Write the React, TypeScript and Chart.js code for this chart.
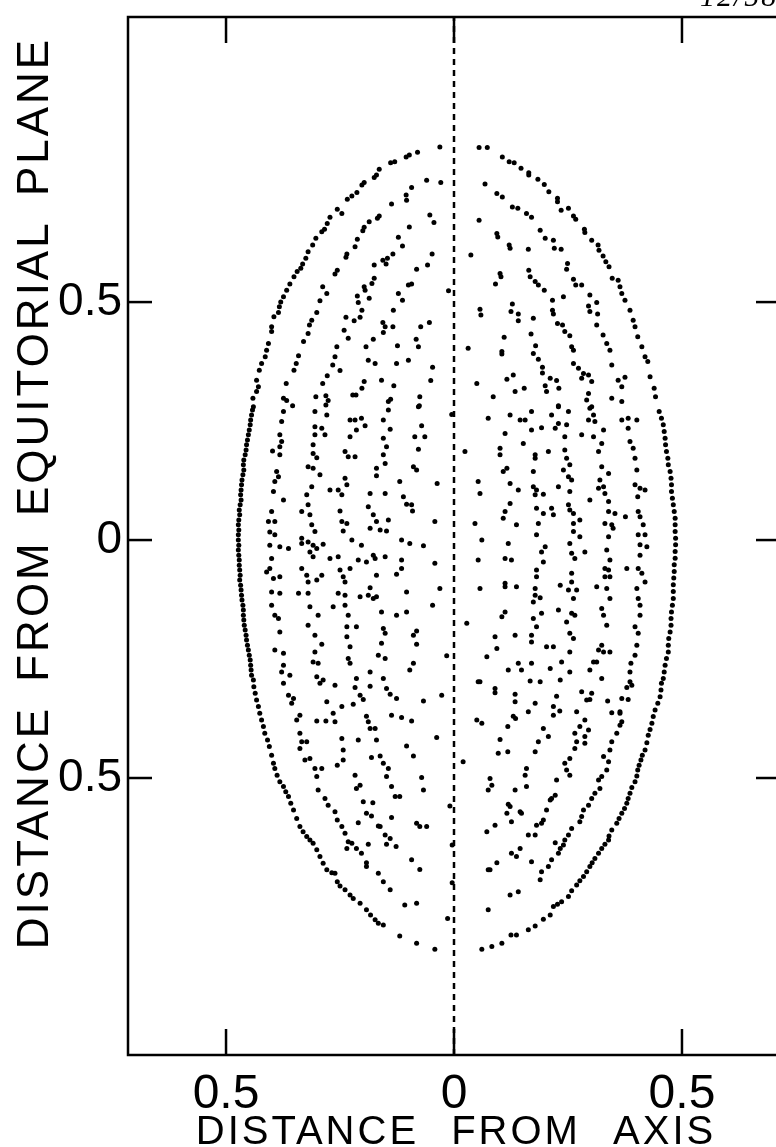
import { useEffect, useRef } from "react";
import { Chart, registerables } from "chart.js";

Chart.register(...registerables);

// Axis ranges (units of the figure: distance from axis / from equatorial plane)
const X_MIN = -0.715;
const X_MAX = 0.715;
const Y_MIN = -1.082;
const Y_MAX = 1.099;

const xTickValues = [-0.5, 0, 0.5];
const yTickValues = [-0.5, 0, 0.5];

const xTitle = "DISTANCE FROM AXIS";
const yTitle = "DISTANCE FROM EQUITORIAL PLANE";
const cornerNote = "12/58";

type Pt = [number, number];

// Crossing points, grouped by region of the section
const upperLeft: Pt[] = [
  [-0.031, 0.826], [-0.080, 0.815], [-0.098, 0.809], [-0.105, 0.805], [-0.130, 0.795], [-0.139, 0.793],
  [-0.164, 0.779], [-0.170, 0.767], [-0.175, 0.762], [-0.197, 0.751], [-0.202, 0.746], [-0.213, 0.730],
  [-0.224, 0.723], [-0.234, 0.716], [-0.256, 0.695], [-0.246, 0.686], [-0.272, 0.678], [-0.278, 0.665],
  [-0.284, 0.653], [-0.290, 0.648], [-0.303, 0.634], [-0.310, 0.620], [-0.320, 0.606], [-0.325, 0.592],
  [-0.332, 0.580], [-0.336, 0.571], [-0.344, 0.564], [-0.351, 0.553], [-0.360, 0.538], [-0.367, 0.525],
  [-0.374, 0.511], [-0.380, 0.500], [-0.383, 0.490], [-0.385, 0.478], [-0.395, 0.469], [-0.400, 0.448],
  [-0.400, 0.438], [-0.407, 0.413], [-0.411, 0.399], [-0.414, 0.385], [-0.422, 0.371], [-0.427, 0.357],
  [-0.433, 0.336], [-0.429, 0.322], [-0.433, 0.312], [-0.441, 0.298], [-0.440, 0.280],
  [-0.060, 0.756], [-0.029, 0.751], [-0.093, 0.741], [-0.105, 0.725], [-0.104, 0.714], [-0.137, 0.706],
  [-0.053, 0.683], [-0.044, 0.667], [-0.164, 0.681], [-0.168, 0.676], [-0.186, 0.669], [-0.098, 0.658],
  [-0.197, 0.657], [-0.200, 0.650], [-0.122, 0.636], [-0.113, 0.618], [-0.212, 0.632], [-0.217, 0.616],
  [-0.048, 0.601], [-0.058, 0.578], [-0.082, 0.569], [-0.134, 0.601], [-0.146, 0.592], [-0.156, 0.588],
  [-0.149, 0.580], [-0.175, 0.578], [-0.235, 0.601], [-0.237, 0.594], [-0.256, 0.567], [-0.261, 0.559],
  [-0.175, 0.550], [-0.180, 0.539], [-0.197, 0.532], [-0.100, 0.536], [-0.093, 0.538], [-0.288, 0.532],
  [-0.279, 0.518], [-0.294, 0.503], [-0.195, 0.525], [-0.186, 0.508], [-0.212, 0.513], [-0.210, 0.499],
  [-0.122, 0.518], [-0.113, 0.504], [-0.133, 0.483], [-0.202, 0.483], [-0.219, 0.461], [-0.206, 0.468],
  [-0.237, 0.468], [-0.241, 0.441], [-0.156, 0.457], [-0.151, 0.448], [-0.155, 0.436], [-0.134, 0.448],
  [-0.073, 0.448], [-0.054, 0.457], [-0.301, 0.478], [-0.312, 0.462], [-0.317, 0.452], [-0.320, 0.434],
  [-0.330, 0.417], [-0.232, 0.424], [-0.177, 0.422], [-0.193, 0.406], [-0.257, 0.406], [-0.124, 0.408],
  [-0.078, 0.406], [-0.083, 0.422], [-0.341, 0.387], [-0.346, 0.371], [-0.351, 0.357], [-0.261, 0.385],
  [-0.266, 0.368], [-0.250, 0.356], [-0.188, 0.378], [-0.173, 0.371], [-0.100, 0.378], [-0.126, 0.371],
  [-0.047, 0.363], [-0.278, 0.345], [-0.288, 0.329], [-0.368, 0.329], [-0.159, 0.336], [-0.197, 0.333],
  [-0.202, 0.319], [-0.132, 0.324], [-0.051, 0.335], [-0.303, 0.301], [-0.281, 0.303], [-0.276, 0.293],
  [-0.281, 0.284], [-0.222, 0.305], [-0.215, 0.305], [-0.139, 0.296], [-0.144, 0.291], [-0.075, 0.301],
  [-0.076, 0.282], [-0.374, 0.298], [-0.367, 0.293], [-0.354, 0.282], [-0.012, 0.524],
];

const upperRight: Pt[] = [
  [0.055, 0.825], [0.073, 0.825], [0.106, 0.805], [0.121, 0.795], [0.132, 0.793], [0.147, 0.781],
  [0.164, 0.772], [0.164, 0.767], [0.068, 0.748], [0.184, 0.758], [0.198, 0.747], [0.094, 0.728],
  [0.106, 0.721], [0.208, 0.732], [0.227, 0.718], [0.227, 0.711], [0.128, 0.700], [0.140, 0.697],
  [0.235, 0.693], [0.251, 0.697], [0.159, 0.686], [0.170, 0.678], [0.262, 0.681], [0.267, 0.674],
  [0.055, 0.672], [0.286, 0.653], [0.287, 0.646], [0.189, 0.651], [0.094, 0.644], [0.096, 0.637],
  [0.200, 0.634], [0.218, 0.630], [0.302, 0.630], [0.121, 0.620], [0.123, 0.613], [0.163, 0.611],
  [0.220, 0.613], [0.235, 0.611], [0.316, 0.620], [0.318, 0.609], [0.037, 0.599], [0.327, 0.597],
  [0.333, 0.585], [0.340, 0.574], [0.249, 0.581], [0.247, 0.569], [0.164, 0.567], [0.167, 0.553],
  [0.178, 0.543], [0.185, 0.536], [0.198, 0.525], [0.101, 0.560], [0.103, 0.553], [0.091, 0.538],
  [0.347, 0.550], [0.360, 0.546], [0.364, 0.532], [0.368, 0.518], [0.262, 0.548], [0.267, 0.536],
  [0.280, 0.536], [0.240, 0.511], [0.298, 0.515], [0.313, 0.499], [0.216, 0.504], [0.216, 0.483],
  [0.218, 0.475], [0.375, 0.504], [0.128, 0.496], [0.057, 0.485], [0.059, 0.473], [0.295, 0.492],
  [0.298, 0.480], [0.315, 0.475], [0.386, 0.483], [0.125, 0.480], [0.141, 0.475], [0.141, 0.461],
  [0.174, 0.466], [0.227, 0.455], [0.238, 0.452], [0.313, 0.452], [0.393, 0.462], [0.397, 0.448],
  [0.169, 0.433], [0.110, 0.426], [0.243, 0.438], [0.254, 0.429], [0.327, 0.431], [0.403, 0.427],
  [0.412, 0.406], [0.335, 0.413], [0.179, 0.408], [0.174, 0.392], [0.031, 0.403], [0.105, 0.396],
  [0.105, 0.391], [0.258, 0.406], [0.262, 0.399], [0.342, 0.399], [0.419, 0.385], [0.425, 0.375],
  [0.185, 0.380], [0.262, 0.371], [0.273, 0.361], [0.284, 0.350], [0.280, 0.340], [0.295, 0.347],
  [0.302, 0.333], [0.346, 0.368], [0.194, 0.363], [0.194, 0.351], [0.430, 0.343], [0.116, 0.338],
  [0.130, 0.347], [0.211, 0.340], [0.225, 0.335], [0.360, 0.336], [0.375, 0.342], [0.368, 0.322],
  [0.050, 0.329], [0.154, 0.319], [0.134, 0.312], [0.200, 0.324], [0.203, 0.312], [0.230, 0.319],
  [0.295, 0.308], [0.439, 0.319], [0.442, 0.301], [0.086, 0.301], [0.346, 0.298], [0.368, 0.291],
  [0.291, 0.294], [0.302, 0.280], [0.229, 0.282],
];

const middleLeft: Pt[] = [
  [-0.442, 0.273], [-0.444, 0.263], [-0.446, 0.252], [-0.447, 0.242], [-0.449, 0.231], [-0.451, 0.221],
  [-0.453, 0.210], [-0.455, 0.200], [-0.456, 0.189], [-0.458, 0.179], [-0.461, 0.168], [-0.462, 0.158],
  [-0.461, 0.147], [-0.463, 0.137], [-0.465, 0.126], [-0.466, 0.116], [-0.467, 0.105], [-0.468, 0.095],
  [-0.467, 0.084], [-0.469, 0.074], [-0.471, 0.063], [-0.470, 0.053], [-0.472, 0.042], [-0.473, 0.032],
  [-0.472, 0.021], [-0.473, 0.011], [-0.473, 0.000], [-0.472, -0.011], [-0.473, -0.021], [-0.472, -0.032],
  [-0.471, -0.042], [-0.471, -0.053], [-0.470, -0.063], [-0.469, -0.074], [-0.470, -0.084], [-0.468, -0.095],
  [-0.467, -0.105], [-0.466, -0.116], [-0.465, -0.126], [-0.463, -0.137], [-0.462, -0.147], [-0.462, -0.158],
  [-0.461, -0.168], [-0.460, -0.179], [-0.458, -0.189], [-0.456, -0.200], [-0.455, -0.210], [-0.453, -0.221],
  [-0.451, -0.231], [-0.449, -0.242], [-0.447, -0.252], [-0.446, -0.263], [-0.445, -0.273], [-0.444, -0.284],
  [-0.374, 0.270], [-0.378, 0.249], [-0.382, 0.221], [-0.378, 0.207], [-0.382, 0.196], [-0.398, 0.187],
  [-0.382, 0.179], [-0.389, 0.144], [-0.385, 0.133], [-0.393, 0.123], [-0.396, 0.102], [-0.374, 0.084],
  [-0.400, 0.060], [-0.407, 0.039], [-0.393, 0.039], [-0.404, 0.017], [-0.393, 0.011], [-0.404, -0.011],
  [-0.382, -0.014], [-0.363, -0.018], [-0.400, -0.039], [-0.404, -0.060], [-0.411, -0.067], [-0.396, -0.081],
  [-0.382, -0.077], [-0.400, -0.109], [-0.382, -0.112], [-0.400, -0.137], [-0.393, -0.158], [-0.385, -0.165],
  [-0.382, -0.193], [-0.393, -0.231], [-0.374, -0.238], [-0.374, -0.263], [-0.378, -0.277], [-0.360, -0.284],
  [-0.305, 0.270], [-0.279, 0.263], [-0.305, 0.238], [-0.290, 0.235], [-0.305, 0.221], [-0.283, 0.221],
  [-0.309, 0.200], [-0.309, 0.182], [-0.301, 0.173], [-0.320, 0.154], [-0.309, 0.151], [-0.294, 0.137],
  [-0.312, 0.112], [-0.323, 0.095], [-0.320, 0.074], [-0.316, 0.053], [-0.334, 0.060], [-0.312, 0.032],
  [-0.305, 0.018], [-0.334, 0.004], [-0.320, -0.004], [-0.309, -0.011], [-0.334, -0.007], [-0.316, -0.025],
  [-0.301, -0.018], [-0.287, -0.009], [-0.309, -0.035], [-0.334, -0.060], [-0.323, -0.074], [-0.320, -0.088],
  [-0.301, -0.084], [-0.290, -0.074], [-0.341, -0.112], [-0.320, -0.112], [-0.316, -0.140], [-0.298, -0.158],
  [-0.320, -0.179], [-0.305, -0.200], [-0.290, -0.219], [-0.305, -0.235], [-0.309, -0.256], [-0.298, -0.259],
  [-0.301, -0.287], [-0.287, -0.294],
  [-0.228, 0.252], [-0.217, 0.252], [-0.203, 0.256], [-0.195, 0.240], [-0.214, 0.231], [-0.228, 0.217],
  [-0.239, 0.186], [-0.232, 0.175], [-0.217, 0.175], [-0.239, 0.130], [-0.235, 0.116], [-0.254, 0.105],
  [-0.272, 0.105], [-0.246, 0.095], [-0.250, 0.061], [-0.246, 0.039], [-0.235, 0.035], [-0.243, 0.019],
  [-0.224, 0.000], [-0.254, -0.035], [-0.272, -0.039], [-0.250, -0.063], [-0.228, -0.060], [-0.243, -0.077],
  [-0.239, -0.088], [-0.254, -0.112], [-0.239, -0.116], [-0.239, -0.137], [-0.265, -0.140], [-0.232, -0.158],
  [-0.235, -0.182], [-0.214, -0.182], [-0.235, -0.203], [-0.228, -0.224], [-0.232, -0.249], [-0.228, -0.259],
  [-0.214, -0.291],
  [-0.155, 0.252], [-0.140, 0.233], [-0.155, 0.214], [-0.148, 0.196], [-0.155, 0.179], [-0.151, 0.161],
  [-0.170, 0.151], [-0.170, 0.135], [-0.184, 0.098], [-0.151, 0.098], [-0.188, 0.070], [-0.177, 0.053],
  [-0.170, 0.039], [-0.144, 0.042], [-0.184, 0.025], [-0.162, 0.021], [-0.148, 0.019], [-0.203, -0.011],
  [-0.177, -0.032], [-0.173, -0.039], [-0.151, -0.035], [-0.210, -0.042], [-0.192, -0.046], [-0.170, -0.074],
  [-0.184, -0.100], [-0.206, -0.119], [-0.188, -0.116], [-0.177, -0.123], [-0.170, -0.119], [-0.159, -0.151],
  [-0.155, -0.186], [-0.151, -0.196], [-0.159, -0.217], [-0.166, -0.242], [-0.151, -0.249], [-0.184, -0.277],
  [-0.155, -0.291],
  [-0.144, 0.273], [-0.078, 0.280], [-0.071, 0.240], [-0.086, 0.217], [-0.064, 0.217], [-0.078, 0.191],
  [-0.089, 0.154], [-0.082, 0.147], [-0.119, 0.123], [-0.037, 0.119], [-0.111, 0.091], [-0.104, 0.075],
  [-0.093, 0.074], [-0.091, 0.061], [-0.042, 0.039], [-0.115, 0.000], [-0.097, -0.007], [-0.067, -0.012],
  [-0.042, -0.049], [-0.115, -0.042], [-0.115, -0.060], [-0.126, -0.072], [-0.104, -0.109], [-0.031, -0.102],
  [-0.047, -0.137], [-0.104, -0.151], [-0.126, -0.158], [-0.082, -0.191], [-0.089, -0.200], [-0.082, -0.219],
  [-0.016, -0.243], [-0.089, -0.259], [-0.097, -0.273], [-0.005, 0.264],
];

const middleRight: Pt[] = [
  [0.450, 0.270], [0.455, 0.256], [0.459, 0.242], [0.461, 0.228], [0.463, 0.214], [0.464, 0.200],
  [0.466, 0.186], [0.469, 0.172], [0.470, 0.158], [0.474, 0.144], [0.476, 0.130], [0.477, 0.116],
  [0.477, 0.102], [0.479, 0.088], [0.481, 0.074], [0.483, 0.060], [0.485, 0.046], [0.485, 0.032],
  [0.485, 0.018], [0.486, 0.004], [0.486, -0.010], [0.485, -0.024], [0.485, -0.038], [0.483, -0.052],
  [0.483, -0.066], [0.482, -0.080], [0.481, -0.094], [0.481, -0.108], [0.481, -0.123], [0.479, -0.137],
  [0.477, -0.151], [0.476, -0.165], [0.476, -0.179], [0.474, -0.193], [0.471, -0.207], [0.470, -0.221],
  [0.470, -0.235], [0.466, -0.249], [0.463, -0.263], [0.461, -0.277], [0.459, -0.291],
  [0.368, 0.252], [0.382, 0.256], [0.401, 0.252], [0.382, 0.235], [0.386, 0.207], [0.393, 0.193],
  [0.397, 0.172], [0.401, 0.147], [0.397, 0.116], [0.408, 0.109], [0.419, 0.105], [0.403, 0.091],
  [0.404, 0.060], [0.408, 0.049], [0.415, 0.032], [0.404, 0.011], [0.419, 0.011], [0.408, -0.010],
  [0.423, -0.014], [0.408, -0.032], [0.404, -0.060], [0.412, -0.070], [0.419, -0.088], [0.401, -0.102],
  [0.404, -0.123], [0.408, -0.137], [0.408, -0.158], [0.397, -0.182], [0.404, -0.196], [0.401, -0.221],
  [0.397, -0.242], [0.388, -0.259], [0.386, -0.277], [0.386, -0.298], [0.376, 0.049], [0.379, -0.060],
  [0.298, 0.277], [0.306, 0.263], [0.295, 0.252], [0.309, 0.249], [0.328, 0.231], [0.306, 0.217],
  [0.324, 0.203], [0.317, 0.186], [0.324, 0.154], [0.339, 0.140], [0.320, 0.126], [0.317, 0.109],
  [0.328, 0.112], [0.331, 0.098], [0.298, 0.084], [0.339, 0.081], [0.339, 0.060], [0.353, 0.056],
  [0.331, 0.035], [0.346, 0.032], [0.349, 0.025], [0.339, 0.007], [0.335, -0.021], [0.342, -0.042],
  [0.331, -0.060], [0.339, -0.063], [0.331, -0.077], [0.342, -0.077], [0.313, -0.098], [0.335, -0.102],
  [0.342, -0.123], [0.324, -0.144], [0.328, -0.158], [0.335, -0.179], [0.324, -0.221], [0.328, -0.235],
  [0.342, -0.235], [0.317, -0.231], [0.306, -0.256], [0.313, -0.256], [0.298, -0.273], [0.324, -0.291],
  [0.229, 0.280], [0.251, 0.270], [0.214, 0.263], [0.229, 0.245], [0.247, 0.242], [0.222, 0.235],
  [0.243, 0.217], [0.280, 0.221], [0.243, 0.189], [0.247, 0.172], [0.254, 0.158], [0.240, 0.147],
  [0.251, 0.133], [0.258, 0.126], [0.229, 0.112], [0.254, 0.102], [0.251, 0.074], [0.254, 0.063],
  [0.262, 0.056], [0.276, 0.042], [0.262, 0.035], [0.262, 0.018], [0.276, 0.007], [0.254, -0.007],
  [0.258, -0.028], [0.265, -0.039], [0.287, -0.025], [0.258, -0.070], [0.258, -0.088], [0.251, -0.105],
  [0.269, -0.105], [0.262, -0.123], [0.233, -0.095], [0.229, -0.147], [0.258, -0.154], [0.265, -0.158],
  [0.247, -0.172], [0.254, -0.196], [0.262, -0.207], [0.254, -0.235], [0.236, -0.256], [0.254, -0.277],
  [0.233, -0.294],
  [0.170, 0.270], [0.170, 0.231], [0.192, 0.236], [0.178, 0.179], [0.178, 0.172], [0.207, 0.186],
  [0.174, 0.144], [0.174, 0.112], [0.181, 0.105], [0.196, 0.096], [0.178, 0.095], [0.181, 0.067],
  [0.196, 0.056], [0.214, 0.067], [0.218, 0.053], [0.185, 0.035], [0.181, 0.011], [0.200, -0.014],
  [0.192, -0.025], [0.196, -0.046], [0.181, -0.063], [0.181, -0.077], [0.178, -0.102], [0.178, -0.116],
  [0.189, -0.121], [0.174, -0.130], [0.192, -0.154], [0.174, -0.165], [0.181, -0.182], [0.170, -0.200],
  [0.170, -0.214], [0.203, -0.224], [0.218, -0.224], [0.170, -0.259], [0.211, -0.270], [0.189, -0.298],
  [0.167, -0.296],
  [0.075, 0.256], [0.123, 0.263], [0.145, 0.252], [0.156, 0.252], [0.112, 0.224], [0.152, 0.203],
  [0.101, 0.193], [0.101, 0.179], [0.024, 0.186], [0.116, 0.151], [0.108, 0.144], [0.053, 0.123],
  [0.057, 0.098], [0.123, 0.119], [0.141, 0.105], [0.123, 0.077], [0.112, 0.060], [0.108, 0.046],
  [0.137, 0.032], [0.046, 0.035], [0.061, 0.000], [0.119, -0.007], [0.053, -0.042], [0.112, -0.039],
  [0.126, -0.042], [0.057, -0.102], [0.112, -0.091], [0.112, -0.098], [0.137, -0.098], [0.112, -0.151],
  [0.105, -0.161], [0.028, -0.175], [0.090, -0.203], [0.134, -0.200], [0.094, -0.228], [0.072, -0.245],
  [0.141, -0.259], [0.148, -0.273], [0.119, -0.273], [0.057, -0.298],
];

const lowerLeft: Pt[] = [
  [-0.440, -0.294], [-0.439, -0.308], [-0.436, -0.322], [-0.433, -0.336], [-0.429, -0.350], [-0.426, -0.364],
  [-0.422, -0.378], [-0.418, -0.392], [-0.415, -0.406], [-0.409, -0.420], [-0.405, -0.434], [-0.400, -0.452],
  [-0.396, -0.469], [-0.393, -0.480], [-0.388, -0.494], [-0.382, -0.508], [-0.374, -0.518], [-0.369, -0.529],
  [-0.363, -0.539], [-0.358, -0.553], [-0.352, -0.567], [-0.345, -0.585], [-0.338, -0.602], [-0.331, -0.613],
  [-0.323, -0.623], [-0.316, -0.630], [-0.309, -0.637], [-0.301, -0.651], [-0.294, -0.665], [-0.287, -0.679],
  [-0.279, -0.693], [-0.268, -0.699], [-0.261, -0.700], [-0.256, -0.718], [-0.250, -0.727], [-0.239, -0.735],
  [-0.228, -0.746], [-0.221, -0.753], [-0.206, -0.763], [-0.192, -0.777], [-0.183, -0.788], [-0.173, -0.798],
  [-0.166, -0.805], [-0.155, -0.809], [-0.119, -0.832], [-0.082, -0.847], [-0.042, -0.860],
  [-0.374, -0.301], [-0.363, -0.326], [-0.356, -0.343], [-0.352, -0.333], [-0.338, -0.368], [-0.345, -0.378],
  [-0.338, -0.406], [-0.334, -0.424], [-0.338, -0.438], [-0.323, -0.424], [-0.316, -0.459], [-0.327, -0.462],
  [-0.305, -0.480], [-0.301, -0.497], [-0.290, -0.480], [-0.298, -0.525], [-0.283, -0.543], [-0.276, -0.557],
  [-0.261, -0.571], [-0.256, -0.588], [-0.246, -0.602], [-0.239, -0.616], [-0.232, -0.634], [-0.224, -0.637],
  [-0.235, -0.648], [-0.214, -0.648], [-0.203, -0.658], [-0.192, -0.678], [-0.192, -0.686], [-0.166, -0.700],
  [-0.155, -0.718], [-0.140, -0.735], [-0.108, -0.767], [-0.082, -0.763],
  [-0.294, -0.301], [-0.261, -0.305], [-0.279, -0.340], [-0.301, -0.380], [-0.281, -0.380], [-0.265, -0.364],
  [-0.261, -0.382], [-0.246, -0.350], [-0.246, -0.417], [-0.243, -0.441], [-0.243, -0.462], [-0.256, -0.473],
  [-0.217, -0.494], [-0.214, -0.522], [-0.206, -0.515], [-0.199, -0.550], [-0.178, -0.552], [-0.192, -0.574],
  [-0.181, -0.580], [-0.210, -0.594], [-0.188, -0.639], [-0.166, -0.601], [-0.151, -0.620], [-0.140, -0.627],
  [-0.148, -0.639], [-0.127, -0.644], [-0.093, -0.672], [-0.075, -0.692],
  [-0.217, -0.310], [-0.206, -0.326], [-0.199, -0.335], [-0.221, -0.345], [-0.192, -0.370], [-0.188, -0.382],
  [-0.184, -0.396], [-0.173, -0.396], [-0.170, -0.420], [-0.210, -0.420], [-0.181, -0.457], [-0.162, -0.454],
  [-0.155, -0.469], [-0.144, -0.480], [-0.148, -0.497], [-0.137, -0.518], [-0.129, -0.539], [-0.119, -0.539],
  [-0.137, -0.583], [-0.162, -0.602], [-0.071, -0.499], [-0.067, -0.525], [-0.082, -0.595], [-0.075, -0.602],
  [-0.060, -0.602], [-0.104, -0.433], [-0.089, -0.454],
  [-0.184, -0.307], [-0.148, -0.312], [-0.140, -0.324], [-0.126, -0.333], [-0.137, -0.368], [-0.115, -0.373],
  [-0.093, -0.380], [-0.067, -0.338], [-0.027, -0.326], [-0.038, -0.415], [-0.009, -0.559], [-0.004, -0.641],
  [-0.004, -0.720], [-0.014, -0.795],
];

const lowerRight: Pt[] = [
  [0.455, -0.301], [0.454, -0.315], [0.452, -0.329], [0.447, -0.343], [0.441, -0.357], [0.437, -0.371],
  [0.434, -0.385], [0.430, -0.398], [0.426, -0.410], [0.423, -0.426], [0.419, -0.441], [0.413, -0.452],
  [0.410, -0.462], [0.406, -0.473], [0.403, -0.483], [0.401, -0.496], [0.397, -0.508], [0.390, -0.520],
  [0.386, -0.532], [0.382, -0.543], [0.379, -0.553], [0.374, -0.564], [0.368, -0.574], [0.362, -0.585],
  [0.357, -0.595], [0.346, -0.609], [0.340, -0.622], [0.339, -0.630], [0.331, -0.639], [0.324, -0.648],
  [0.317, -0.658], [0.309, -0.669], [0.303, -0.678], [0.298, -0.686], [0.291, -0.697], [0.284, -0.707],
  [0.276, -0.716], [0.269, -0.725], [0.258, -0.737], [0.251, -0.749], [0.236, -0.760], [0.227, -0.765],
  [0.218, -0.770], [0.211, -0.788], [0.196, -0.797], [0.178, -0.811], [0.163, -0.819], [0.137, -0.830],
  [0.125, -0.830], [0.105, -0.847], [0.083, -0.854], [0.061, -0.860],
  [0.390, -0.305], [0.379, -0.310], [0.368, -0.333], [0.382, -0.335], [0.364, -0.361], [0.368, -0.382],
  [0.364, -0.389], [0.357, -0.406], [0.346, -0.424], [0.342, -0.441], [0.328, -0.455], [0.339, -0.466],
  [0.335, -0.483], [0.324, -0.497], [0.317, -0.504], [0.320, -0.522], [0.309, -0.532], [0.302, -0.543],
  [0.295, -0.557], [0.284, -0.567], [0.280, -0.581], [0.276, -0.592], [0.258, -0.606], [0.251, -0.620],
  [0.243, -0.630], [0.240, -0.641], [0.233, -0.648], [0.229, -0.658], [0.214, -0.672], [0.207, -0.686],
  [0.192, -0.697], [0.189, -0.714], [0.222, -0.636],
  [0.280, -0.319], [0.302, -0.322], [0.298, -0.335], [0.291, -0.336], [0.337, -0.338], [0.346, -0.363],
  [0.364, -0.364], [0.287, -0.378], [0.295, -0.399], [0.276, -0.392], [0.265, -0.406], [0.287, -0.413],
  [0.269, -0.424], [0.287, -0.427], [0.265, -0.438], [0.254, -0.459], [0.243, -0.469], [0.247, -0.483],
  [0.254, -0.494], [0.225, -0.504], [0.222, -0.536], [0.214, -0.543], [0.211, -0.546], [0.203, -0.567],
  [0.196, -0.588], [0.192, -0.595], [0.181, -0.599], [0.178, -0.620], [0.163, -0.620], [0.145, -0.648],
  [0.126, -0.658], [0.137, -0.665], [0.094, -0.678], [0.075, -0.693],
  [0.225, -0.328], [0.218, -0.350], [0.218, -0.368], [0.232, -0.359], [0.269, -0.361], [0.196, -0.396],
  [0.207, -0.413], [0.185, -0.424], [0.178, -0.445], [0.159, -0.480], [0.156, -0.494], [0.159, -0.518],
  [0.134, -0.525], [0.123, -0.560], [0.116, -0.574], [0.126, -0.592], [0.145, -0.571], [0.170, -0.676],
  [0.141, -0.739], [0.123, -0.746], [0.075, -0.777],
  [0.053, -0.298], [0.090, -0.312], [0.090, -0.321], [0.134, -0.324], [0.134, -0.340], [0.178, -0.343],
  [0.163, -0.361], [0.130, -0.370], [0.135, -0.375], [0.118, -0.392], [0.050, -0.378], [0.061, -0.385],
  [0.101, -0.419], [0.097, -0.448], [0.118, -0.445], [0.020, -0.466], [0.079, -0.501], [0.083, -0.515],
  [0.075, -0.525], [0.090, -0.599], [0.072, -0.613], [0.079, -0.693], [0.148, -0.574], [0.119, -0.555],
];

const FONT = "'Liberation Sans', Arial, Helvetica, sans-serif";

const tickLabel = (v: number | string) => {
  const n = Math.abs(Number(v));
  return n === 0 ? "0" : n.toFixed(1);
};

// Frame with inward ticks, axis titles and the corner note
const framePlugin = {
  id: "frame",
  afterDatasetsDraw(chart: any) {
    const { ctx, chartArea: a, scales } = chart;
    ctx.save();
    ctx.strokeStyle = "#000";
    ctx.lineWidth = 2.5;
    ctx.strokeRect(a.left, a.top, a.right - a.left, a.bottom - a.top);
    const seg = (x1: number, y1: number, x2: number, y2: number) => {
      ctx.beginPath();
      ctx.moveTo(x1, y1);
      ctx.lineTo(x2, y2);
      ctx.stroke();
    };
    const len = 26;
    xTickValues.forEach((v) => {
      const px = scales.x.getPixelForValue(v);
      seg(px, a.top, px, a.top + len);
      seg(px, a.bottom, px, a.bottom - len);
    });
    yTickValues.forEach((v) => {
      const py = scales.y.getPixelForValue(v);
      seg(a.left, py, a.left + 24, py);
      seg(a.right, py, a.right - 24, py);
    });

    ctx.fillStyle = "#000";
    ctx.textAlign = "center";
    ctx.textBaseline = "alphabetic";
    ctx.letterSpacing = "3px";
    ctx.wordSpacing = "18px";
    ctx.font = `40px ${FONT}`;
    ctx.fillText(xTitle, scales.x.getPixelForValue(0) + 2, a.bottom + 89);

    ctx.save();
    ctx.font = `44px ${FONT}`;
    ctx.letterSpacing = "3px";
    ctx.wordSpacing = "9px";
    ctx.translate(48, a.top + 476);
    ctx.rotate(-Math.PI / 2);
    ctx.fillText(yTitle, 0, 0);
    ctx.restore();

    ctx.letterSpacing = "2px";
    ctx.wordSpacing = "0px";
    ctx.textAlign = "left";
    ctx.font = `italic 30px 'Liberation Serif', serif`;
    ctx.fillText(cornerNote, 700, 6);
    ctx.restore();
  },
};

export default function App() {
  const ref = useRef<HTMLCanvasElement>(null);

  useEffect(() => {
    const canvas = ref.current;
    if (!canvas) return;
    const points = [...upperLeft, ...upperRight, ...middleLeft, ...middleRight, ...lowerLeft, ...lowerRight].map(
      ([x, y]) => ({ x, y })
    );
    const chart = new Chart(canvas, {
      type: "scatter",
      data: {
        datasets: [
          {
            data: points,
            pointRadius: 2.5,
            pointHoverRadius: 2.5,
            pointStyle: "circle",
            backgroundColor: "#000",
            borderWidth: 0,
          },
          {
            type: "line",
            data: [
              { x: 0, y: Y_MIN },
              { x: 0, y: Y_MAX },
            ],
            borderColor: "#000",
            borderWidth: 2.5,
            borderDash: [6, 5],
            pointRadius: 0,
            fill: false,
          } as any,
        ],
      },
      options: {
        animation: false,
        responsive: false,
        devicePixelRatio: 1,
        events: [],
        layout: { autoPadding: false, padding: { left: 0, top: 17, right: 10, bottom: 0 } },
        plugins: { legend: { display: false }, tooltip: { enabled: false } },
        scales: {
          x: {
            type: "linear",
            min: X_MIN,
            max: X_MAX,
            grid: { display: false, drawTicks: false },
            border: { display: false },
            afterBuildTicks: (s: any) => {
              s.ticks = xTickValues.map((v) => ({ value: v }));
            },
            afterFit: (s: any) => {
              s.height = 92;
              s.paddingLeft = 0;
              s.paddingRight = 0;
            },
            ticks: {
              autoSkip: false,
              maxRotation: 0,
              color: "#000",
              padding: 11,
              font: { family: FONT, size: 48 },
              callback: (v: any) => tickLabel(v),
            },
          },
          y: {
            type: "linear",
            min: Y_MIN,
            max: Y_MAX,
            grid: { display: false, drawTicks: false },
            border: { display: false },
            afterBuildTicks: (s: any) => {
              s.ticks = yTickValues.map((v) => ({ value: v }));
            },
            afterFit: (s: any) => {
              s.width = 128;
              s.paddingTop = 0;
              s.paddingBottom = 0;
            },
            ticks: {
              autoSkip: false,
              color: "#000",
              padding: 6,
              font: { family: FONT, size: 46 },
              callback: (v: any) => tickLabel(v),
            },
          },
        },
      },
      plugins: [framePlugin],
    });
    return () => chart.destroy();
  }, []);

  return (
    <div
      style={{
        position: "fixed",
        left: 0,
        top: 0,
        width: 776,
        height: 1147,
        overflow: "hidden",
        background: "#fff",
      }}
    >
      <canvas ref={ref} width={790} height={1147} style={{ display: "block" }} />
    </div>
  );
}
